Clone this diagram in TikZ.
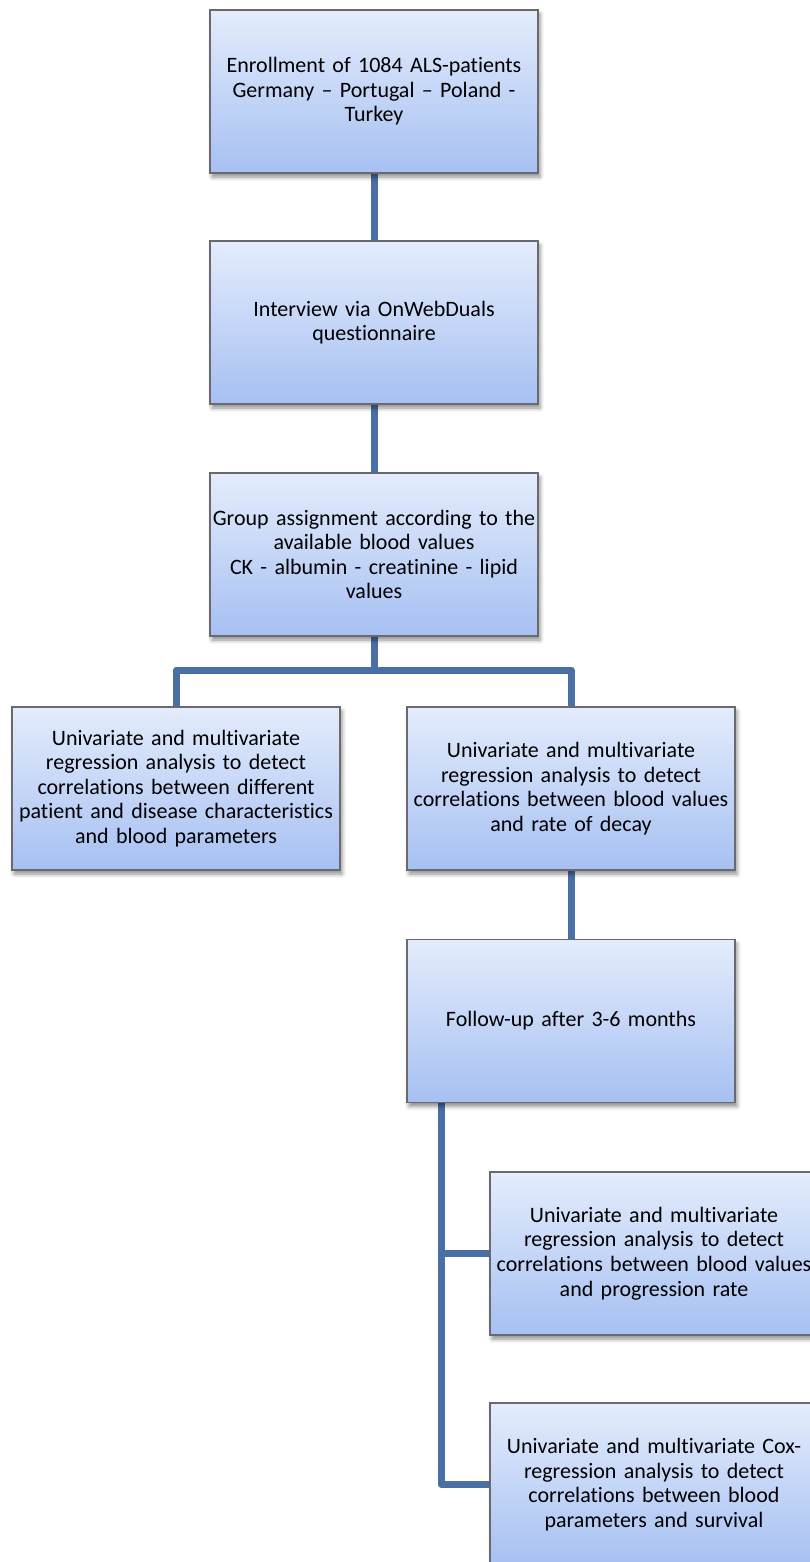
\documentclass[tikz,border=0pt]{standalone}
\usepackage{fontspec}
\setmainfont{Carlito}[Ligatures=NoCommon]
\usetikzlibrary{shadows.blur,backgrounds}
\definecolor{conncol}{RGB}{74,111,165}
\definecolor{boxtop}{RGB}{228,236,252}
\definecolor{boxbot}{RGB}{166,192,242}
\definecolor{boxline}{RGB}{105,105,110}
\tikzset{
  flowbox/.style={draw=boxline, line width=1.3pt, top color=boxtop, bottom color=boxbot,
    minimum width=328, minimum height=163, text width=326, align=center, inner sep=0pt,
    font=\fontsize{22}{24.6}\selectfont,
    blur shadow={shadow xshift=2pt, shadow yshift=-4pt, shadow blur radius=4pt, shadow opacity=45}},
  conn/.style={draw=conncol, line width=7pt, line join=round}
}
\begin{document}
\begin{tikzpicture}[x=1pt,y=1pt]
\useasboundingbox (0,0) rectangle (810,-1562);
\clip (0,0) rectangle (810,-1562);
\coordinate (j1) at (374,-670);
\coordinate (t6) at (441,-1102);
\node[flowbox] (b1) at (374,-91.5) {Enrollment of 1084 ALS-patients\\Germany -- Portugal -- Poland -\\Turkey};
\node[flowbox] (b2) at (374,-322.5) {Interview via OnWebDuals\\questionnaire};
\node[flowbox] (b3) at (374,-554.5) {Group assignment according to the\\available blood values\\CK - albumin - creatinine - lipid\\values};
\node[flowbox] (b4) at (176,-788.5) {Univariate and multivariate\\regression analysis to detect\\correlations between different\\patient and disease characteristics\\and blood parameters};
\node[flowbox] (b5) at (571,-788.5) {Univariate and multivariate\\regression analysis to detect\\correlations between blood values\\and rate of decay};
\node[flowbox] (b6) at (571,-1021) {Follow-up after 3-6 months};
\node[flowbox] (b7) at (654,-1253.5) {Univariate and multivariate\\regression analysis to detect\\correlations between blood values\\and progression rate};
\node[flowbox] (b8) at (654,-1484.5) {Univariate and multivariate Cox-\\regression analysis to detect\\correlations between blood\\parameters and survival};
\begin{scope}[on background layer]
\draw[conn] (b1.south) -- (b2.north);
\draw[conn] (b2.south) -- (b3.north);
\draw[conn] (b3.south) -- (j1);
\draw[conn] (b4.north) |- (b5.north |- j1) -- (b5.north);
\draw[conn] (b5.south) -- (b6.north);
\draw[conn] (t6) |- (b8.west);
\draw[conn] (t6 |- b7.west) -- (b7.west);
\end{scope}
\end{tikzpicture}
\end{document}
